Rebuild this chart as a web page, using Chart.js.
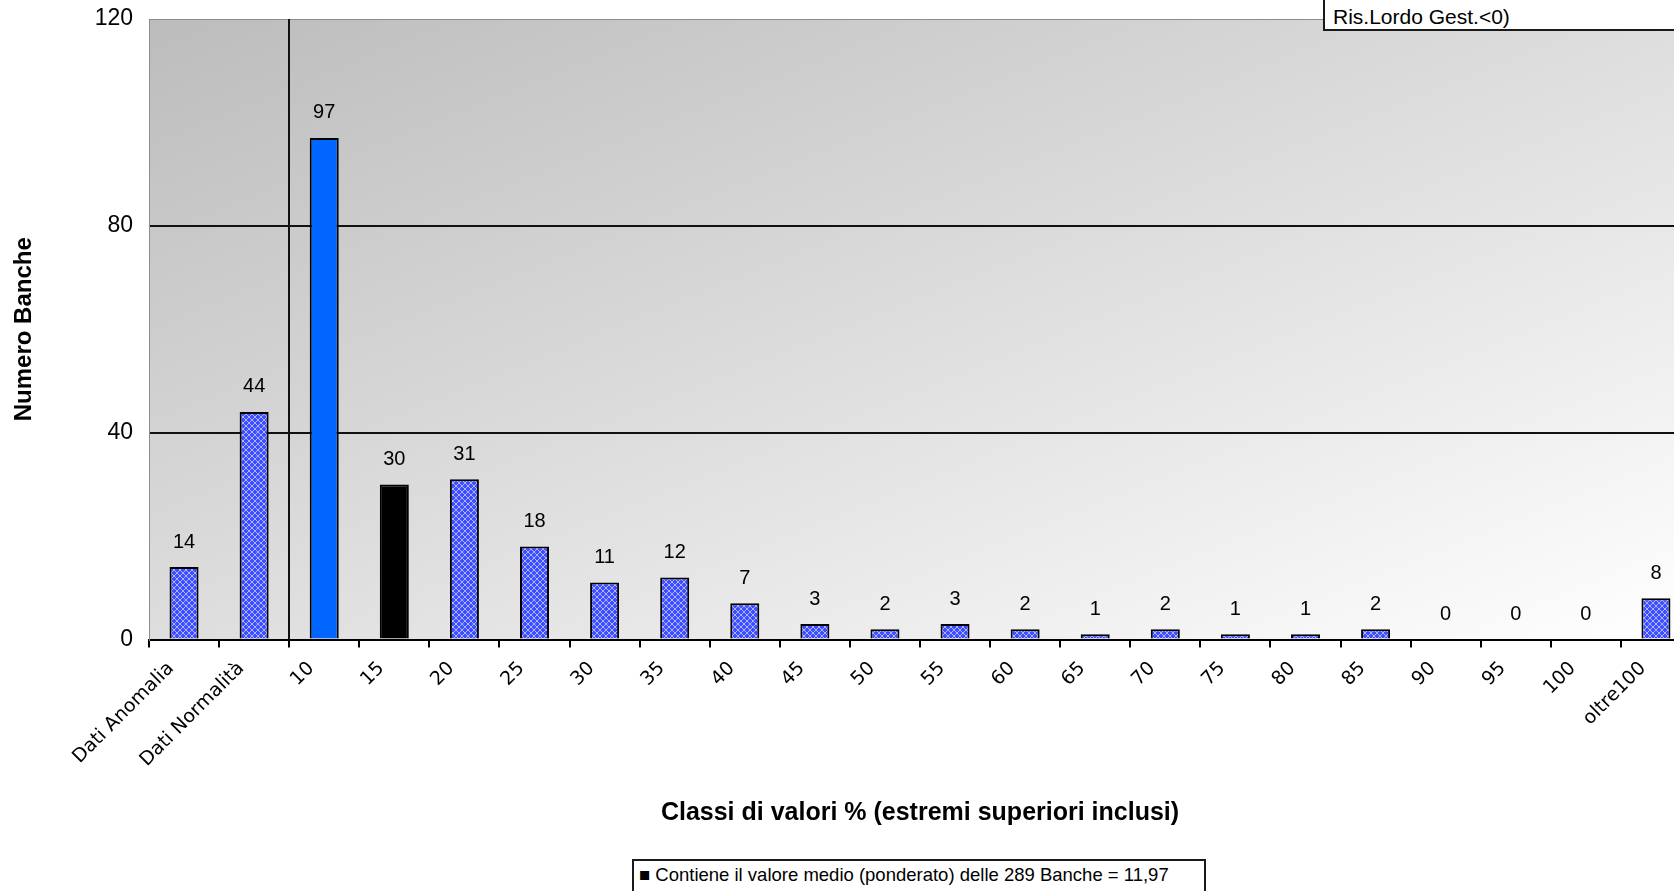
<!DOCTYPE html>
<html lang="it">
<head>
  <meta charset="UTF-8" />
  <title>Distribuzione Banche per classi di valori</title>
  <script src="https://cdn.jsdelivr.net/npm/chart.js"></script>
  <style>
    body { margin:0; background:#fff; overflow:hidden; font-family:'Liberation Sans',Arial,sans-serif; }
    #wrap { position:relative; width:1691px; height:891px; }
    .box { position:absolute; background:#fff; border:2px solid #1a1a1a; color:#000; white-space:nowrap; box-sizing:border-box; }
    #boxTop { left:1323px; top:-3px; width:400px; height:34px; font-size:21px; line-height:32px; padding:2px 0 0 8px; }
    #boxBottom { left:632px; top:859px; width:574px; height:60px; font-size:18.5px; padding:3px 0 0 5px; }
  </style>
</head>
<body>
  <div id="wrap">
    <canvas id="chart"></canvas>
    <div id="boxTop" class="box"></div>
    <div id="boxBottom" class="box"></div>
  </div>

  <script>
    // classi di valori % (estremi superiori inclusi)
    const classLabels = ['Dati Anomalia', 'Dati Normalità', '10', '15', '20', '25', '30', '35', '40', '45', '50',
                         '55', '60', '65', '70', '75', '80', '85', '90', '95', '100', 'oltre100'];
    const numBanks = [14, 44, 97, 30, 31, 18, 11, 12, 7, 3, 2, 3, 2, 1, 2, 1, 1, 2, 0, 0, 0, 8];
    const yTicks = [0, 40, 80, 120];
    const meanClass = '15';      // classe che contiene il valore medio
    const topNote = 'Ris.Lordo Gest.<0)';
    const meanNote = '\u25A0 Contiene il valore medio (ponderato) delle 289 Banche = 11,97';
    const xTitle = 'Classi di valori % (estremi superiori inclusi)';
    const yTitle = 'Numero Banche';

    document.getElementById('boxTop').textContent = topNote;
    document.getElementById('boxBottom').textContent = meanNote;

    // retino blu a quadretti per le barre normali
    function hatch() {
      const c = document.createElement('canvas');
      c.width = 6; c.height = 6;
      const g = c.getContext('2d');
      g.fillStyle = '#3d4dff';
      g.fillRect(0, 0, 6, 6);
      g.fillStyle = '#aab4ff';
      for (let i = 0; i < 6; i++) {
        g.fillRect(i, i, 1, 1);
        g.fillRect(i, 5 - i, 1, 1);
      }
      return g.createPattern(c, 'repeat');
    }
    const pat = hatch();
    const maxVal = Math.max(...numBanks);
    const barColors = numBanks.map((v, i) => {
      if (classLabels[i] === meanClass) return '#000000';
      if (v === maxVal) return '#0066ff';
      return pat;
    });

    Chart.defaults.font.family = "'Liberation Sans', Arial, sans-serif";
    Chart.defaults.color = '#000';

    // sfondo sfumato dell'area del grafico + separatore verticale
    const plotDecor = {
      id: 'plotDecor',
      beforeDraw(chart) {
        const { ctx, chartArea: a } = chart;
        const w = a.right - a.left, h = a.bottom - a.top;
        const len = 2 * w * h / Math.sqrt(w * w + h * h);
        const n = Math.sqrt(w * w + h * h);
        const grad = ctx.createLinearGradient(a.left, a.top, a.left + h / n * len, a.top + w / n * len);
        grad.addColorStop(0, '#bcbcbc');
        grad.addColorStop(1, '#ffffff');
        ctx.save();
        ctx.fillStyle = grad;
        ctx.fillRect(a.left, a.top, w, h);
        ctx.restore();
      },
      beforeDatasetsDraw(chart) {
        const { ctx, chartArea: a, scales: { x } } = chart;
        const sx = Math.round((x.getPixelForValue(1) + x.getPixelForValue(2)) / 2);
        ctx.save();
        ctx.strokeStyle = '#111';
        ctx.lineWidth = 2;
        ctx.beginPath();
        ctx.moveTo(sx, a.top);
        ctx.lineTo(sx, a.bottom);
        ctx.stroke();
        ctx.restore();
      }
    };

    // etichette con i valori sopra le barre
    const valueLabels = {
      id: 'valueLabels',
      afterDatasetsDraw(chart) {
        const { ctx } = chart;
        const meta = chart.getDatasetMeta(0);
        ctx.save();
        ctx.font = "20px 'Liberation Sans', Arial, sans-serif";
        ctx.fillStyle = '#000';
        ctx.textAlign = 'center';
        ctx.textBaseline = 'middle';
        meta.data.forEach((bar, i) => {
          ctx.fillText(String(numBanks[i]), bar.x, bar.y - 25);
        });
        ctx.restore();
      }
    };

    new Chart(document.getElementById('chart'), {
      type: 'bar',
      data: {
        labels: classLabels,
        datasets: [{
          data: numBanks,
          backgroundColor: barColors,
          borderColor: '#000',
          borderWidth: 2,
          barPercentage: 0.414,
          categoryPercentage: 1
        }]
      },
      options: {
        responsive: true,
        maintainAspectRatio: false,
        animation: false,
        layout: { padding: { top: 19, left: 0, right: 0, bottom: 0 } },
        plugins: { legend: { display: false }, tooltip: { enabled: false } },
        scales: {
          x: {
            afterFit: s => { s.height = 251.5; s.paddingLeft = 0; s.paddingRight = 0; },
            grid: { drawOnChartArea: false, drawTicks: true, tickLength: 8, color: '#000', lineWidth: 2 },
            border: { color: '#000', width: 2 },
            ticks: {
              font: { family: "'DejaVu Sans', sans-serif", size: 19 },
              minRotation: 45, maxRotation: 45, autoSkip: false, padding: 10, labelOffset: -13
            },
            title: {
              display: true, text: xTitle,
              font: { size: 25, weight: 'bold' },
              padding: { top: 0, bottom: 63 }
            }
          },
          y: {
            min: 0, max: 120,
            afterFit: s => { s.width = 149; s.paddingTop = 0; s.paddingBottom = 0; },
            afterBuildTicks: s => { s.ticks = yTicks.map(v => ({ value: v })); },
            grid: {
              drawTicks: false,
              color: c => c.tick.value === 120 ? '#8c8c8c' : (c.tick.value === 0 ? 'rgba(0,0,0,0)' : '#111'),
              lineWidth: c => c.tick.value === 120 ? 1 : 2
            },
            border: { color: '#8c8c8c', width: 1 },
            ticks: { font: { size: 23 }, padding: 16 },
            title: {
              display: true, text: yTitle,
              font: { size: 24, weight: 'bold' },
              padding: { top: 10, bottom: 0 }
            }
          }
        }
      },
      plugins: [plotDecor, valueLabels]
    });
  </script>
</body>
</html>
